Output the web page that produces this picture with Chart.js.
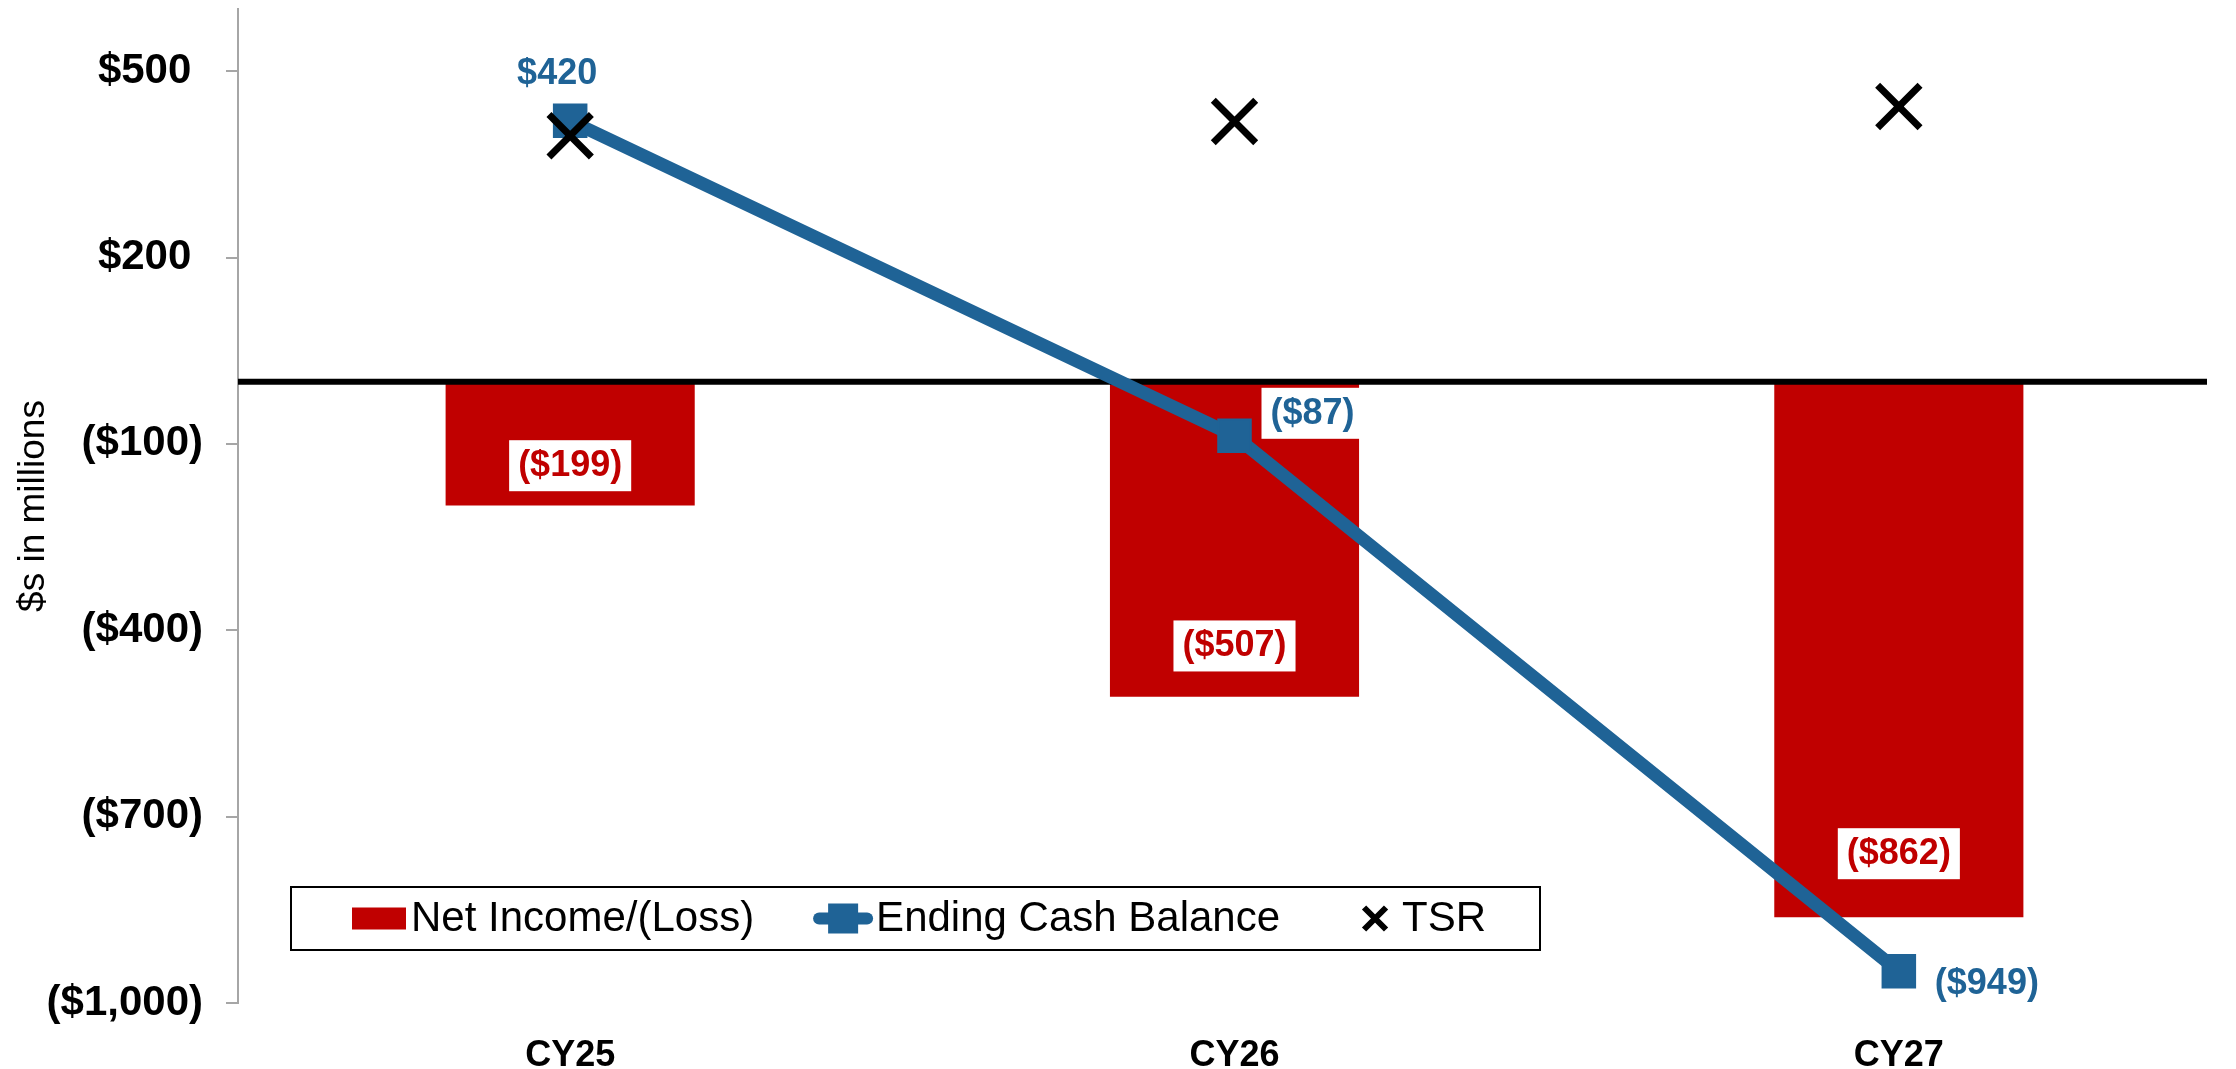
<!DOCTYPE html>
<html><head>
<meta charset="UTF-8">
<title>Net Income and Ending Cash Balance</title>
<style>
  body { margin: 0; padding: 0; background: #fff; }
  #chart { display: block; }
</style>
<script src="https://cdn.jsdelivr.net/npm/chart.js"></script>
</head>
<body>
<canvas id="chart" width="2236" height="1069"></canvas>
<script>
  // data
  var years = ['CY25', 'CY26', 'CY27'];
  var netIncome = [-199, -507, -862];
  var endingCash = [420, -87, -949];
  var tsr = [396, 419, 443];
  var yTicks = [-1000, -700, -400, -100, 200, 500];
  var seriesNames = ['Net Income/(Loss)', 'Ending Cash Balance', 'TSR'];

  var RED = '#C00000';
  var BLUE = '#1F6396';
  var FONT = "'Liberation Sans', Arial, sans-serif";

  function money(v) {
    var s = '$' + Math.abs(v).toLocaleString('en-US');
    return v < 0 ? '(' + s + ')' : s;
  }

  function drawLabel(ctx, text, cx, cy, color, box) {
    ctx.font = 'bold 36px ' + FONT;
    var w = ctx.measureText(text).width;
    if (box) {
      ctx.fillStyle = '#fff';
      ctx.fillRect(cx - w / 2 - 9, cy - 25, w + 18, 51);
    }
    ctx.fillStyle = color;
    ctx.textAlign = 'center';
    ctx.textBaseline = 'middle';
    ctx.fillText(text, cx, cy + 1);
  }

  // thick black line at zero, drawn over the bars but under the line
  var zeroLine = {
    id: 'zeroLine',
    afterDatasetDraw: function(chart, args) {
      if (args.index !== 0) return;
      var ctx = chart.ctx, ca = chart.chartArea;
      var y = chart.scales.y.getPixelForValue(0);
      ctx.save();
      ctx.strokeStyle = '#000';
      ctx.lineWidth = 6;
      ctx.beginPath();
      ctx.moveTo(ca.left, y);
      ctx.lineTo(ca.right - 24, y);
      ctx.stroke();
      ctx.restore();
    }
  };

  var dataLabels = {
    id: 'dataLabels',
    afterDatasetsDraw: function(chart) {
      var ctx = chart.ctx;
      ctx.save();
      chart.getDatasetMeta(0).data.forEach(function(bar, i) {
        var h = Math.abs(bar.y - bar.base);
        drawLabel(ctx, money(netIncome[i]), bar.x, bar.y - (33 + h * 0.058), RED, true);
      });
      chart.getDatasetMeta(1).data.forEach(function(pt, i) {
        var text = money(endingCash[i]);
        if (i === 0) {
          drawLabel(ctx, text, pt.x - 13, pt.y - 48, BLUE, false);
        } else {
          ctx.font = 'bold 36px ' + FONT;
          var w = ctx.measureText(text).width;
          var dy = i === 1 ? -23 : 12;
          drawLabel(ctx, text, pt.x + 36 + w / 2, pt.y + dy, BLUE, true);
        }
      });
      ctx.restore();
    }
  };

  // legend box inside the plot, bottom left
  var boxLegend = {
    id: 'boxLegend',
    afterDraw: function(chart) {
      var ctx = chart.ctx, ca = chart.chartArea;
      var left = ca.left + 53, top = ca.bottom - 116, w = 1249, h = 63;
      var cy = top + h / 2;
      ctx.save();
      ctx.strokeStyle = '#000';
      ctx.lineWidth = 2;
      ctx.strokeRect(left, top, w, h);
      ctx.font = '42px ' + FONT;
      ctx.textBaseline = 'middle';
      ctx.textAlign = 'left';

      var x = left + 61;
      ctx.fillStyle = RED;
      ctx.fillRect(x, cy - 11, 54, 22);
      x += 59;
      ctx.fillStyle = '#000';
      ctx.fillText(seriesNames[0], x, cy + 1);
      x += ctx.measureText(seriesNames[0]).width + 59;

      ctx.strokeStyle = BLUE;
      ctx.lineWidth = 12;
      ctx.lineCap = 'round';
      ctx.beginPath();
      ctx.moveTo(x + 6, cy);
      ctx.lineTo(x + 54, cy);
      ctx.stroke();
      ctx.fillStyle = BLUE;
      ctx.fillRect(x + 15, cy - 15, 30, 30);
      x += 63;
      ctx.fillStyle = '#000';
      ctx.fillText(seriesNames[1], x, cy + 1);
      x += ctx.measureText(seriesNames[1]).width + 84;

      ctx.strokeStyle = '#000';
      ctx.lineWidth = 6;
      ctx.lineCap = 'butt';
      ctx.beginPath();
      ctx.moveTo(x, cy - 11); ctx.lineTo(x + 22, cy + 11);
      ctx.moveTo(x + 22, cy - 11); ctx.lineTo(x, cy + 11);
      ctx.stroke();
      x += 38;
      ctx.fillText(seriesNames[2], x, cy + 1);
      ctx.restore();
    }
  };

  var ctx = document.getElementById('chart').getContext('2d');
  var chart = new Chart(ctx, {
    type: 'bar',
    data: {
      labels: years,
      datasets: [{
        label: seriesNames[0],
        data: netIncome,
        backgroundColor: RED,
        borderWidth: 0,
        barPercentage: 0.375,
        categoryPercentage: 1,
        order: 2
      }, {
        type: 'line',
        label: seriesNames[1],
        data: endingCash,
        borderColor: BLUE,
        backgroundColor: BLUE,
        borderWidth: 13,
        pointStyle: 'rect',
        pointRadius: 23,
        pointBorderWidth: 2,
        pointBackgroundColor: BLUE,
        pointBorderColor: BLUE,
        tension: 0,
        order: 1
      }, {
        type: 'line',
        label: seriesNames[2],
        data: tsr,
        showLine: false,
        borderColor: '#000',
        backgroundColor: '#000',
        pointStyle: 'crossRot',
        pointRadius: 30,
        pointBorderWidth: 7,
        order: 0
      }]
    },
    options: {
      responsive: false,
      animation: false,
      layout: { autoPadding: false, padding: { top: 9, right: 5, left: 0, bottom: 0 } },
      plugins: {
        legend: { display: false },
        tooltip: { enabled: false }
      },
      scales: {
        x: {
          grid: { display: false },
          border: { display: false },
          ticks: {
            color: '#000',
            padding: 23,
            font: { family: FONT, size: 36, weight: 'bold' }
          },
          afterFit: function(scale) {
            scale.height = 66;
            scale.paddingLeft = 0;
            scale.paddingRight = 0;
          }
        },
        y: {
          min: -1000,
          max: 600,
          afterBuildTicks: function(scale) {
            scale.ticks = yTicks.map(function(v) { return { value: v }; });
          },
          afterFit: function(scale) {
            scale.width = 238;
            scale.paddingTop = 0;
            scale.paddingBottom = 0;
          },
          grid: {
            drawOnChartArea: false,
            drawTicks: true,
            tickLength: 12,
            color: '#A6A6A6',
            lineWidth: 2
          },
          border: { display: true, color: '#A6A6A6', width: 2 },
          ticks: {
            color: '#000',
            padding: 23,
            font: { family: FONT, size: 42, weight: 'bold' },
            // accounting style: positives leave room for the closing bracket
            callback: function(v) { return v < 0 ? money(v) : money(v) + ' '; }
          },
          title: {
            display: true,
            text: '$s in millions',
            color: '#000',
            font: { family: FONT, size: 37 },
            padding: { top: 12, bottom: 0 }
          }
        }
      }
    },
    plugins: [zeroLine, dataLabels, boxLegend]
  });
</script>
</body>
</html>
